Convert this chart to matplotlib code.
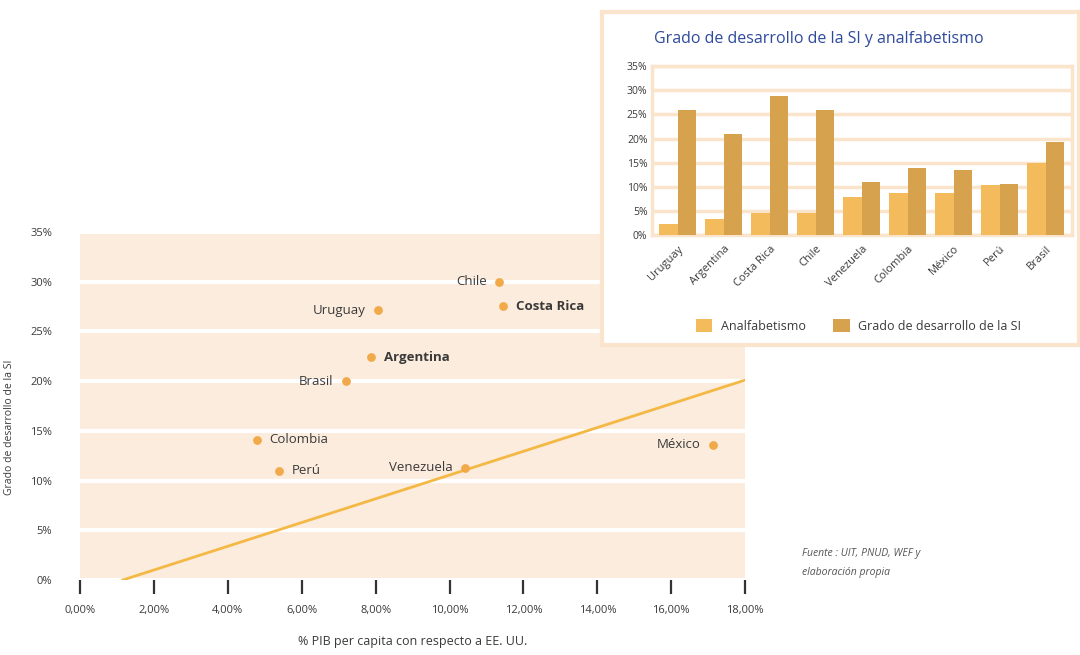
import numpy as np
import matplotlib
matplotlib.use("Agg")
import matplotlib.pyplot as plt
from matplotlib.patches import Rectangle
from matplotlib.ticker import FuncFormatter

plt.rcParams['font.family'] = ['Open Sans', 'DejaVu Sans']

# dispersión: % PIB per cápita vs grado de desarrollo de la SI
paises = ['Chile', 'Costa Rica', 'Uruguay', 'Argentina', 'Brasil',
          'Colombia', 'Perú', 'Venezuela', 'México']
pib_pc = [11.34, 11.45, 8.07, 7.88, 7.20, 4.79, 5.39, 10.42, 17.14]
grado_si = [30.0, 27.5, 27.1, 22.4, 20.0, 14.1, 11.0, 11.3, 13.6]
lado = ['izq', 'der', 'izq', 'der', 'izq', 'der', 'der', 'izq', 'izq']
negrita = ['Costa Rica', 'Argentina']

tendencia_x = [1.16, 18.0]
tendencia_y = [0.0, 20.1]

# barras: analfabetismo y grado de desarrollo
cat_barras = ['Uruguay', 'Argentina', 'Costa Rica', 'Chile', 'Venezuela',
              'Colombia', 'México', 'Perú', 'Brasil']
analfabetismo = [2.3, 3.3, 4.5, 4.5, 7.9, 8.7, 8.7, 10.4, 14.9]
grado_barras = [25.9, 20.9, 28.8, 25.9, 11.0, 13.9, 13.5, 10.6, 19.3]

fondo = '#fcecdd'
naranja = '#f2a94a'
linea = '#f4b845'
claro = '#f3bb5c'
oscuro = '#d6a24e'
borde = '#fbe4cc'
texto = '#3a3a3a'

fig = plt.figure(figsize=(10.8, 6.55), dpi=100)

ax = fig.add_axes([0.074, 0.1145, 0.616, 0.5315])
ax.set_facecolor(fondo)
ax.set_xlim(0, 18)
ax.set_ylim(0, 35)
for s in ax.spines.values():
    s.set_visible(False)
ax.set_yticks(np.arange(0, 36, 5))
ax.set_xticks(np.arange(0, 19, 2))
ax.yaxis.set_major_formatter(FuncFormatter(lambda v, p: f'{v:.0f}%'))
ax.xaxis.set_major_formatter(FuncFormatter(lambda v, p: f'{v:.2f}%'.replace('.', ',')))
ax.grid(axis='y', color='white', linewidth=3)
ax.set_axisbelow(True)
ax.tick_params(axis='y', length=0, pad=20, labelsize=8, labelcolor=texto)
ax.tick_params(axis='x', direction='out', length=10, width=1.6, color='#333333',
               pad=8, labelsize=8, labelcolor=texto)

ax.plot(tendencia_x, tendencia_y, color=linea, linewidth=2)
ax.scatter(pib_pc, grado_si, s=28, color=naranja, zorder=3)
for nombre, x, y, l in zip(paises, pib_pc, grado_si, lado):
    peso = 'bold' if nombre in negrita else 'normal'
    if l == 'izq':
        ax.annotate(nombre, (x, y), xytext=(-9, 0), textcoords='offset points',
                    ha='right', va='center', fontsize=9.5, color=texto, fontweight=peso)
    else:
        ax.annotate(nombre, (x, y), xytext=(9, 0), textcoords='offset points',
                    ha='left', va='center', fontsize=9.5, color=texto, fontweight=peso)

ax.set_ylabel('Grado de desarrollo de la SI', fontsize=7.5, color=texto)
ax.yaxis.set_label_coords(-0.097, 0.44)
ax.set_xlabel('% PIB per capita con respecto a EE. UU.', fontsize=9, color=texto,
              labelpad=14)

fig.text(0.743, 0.163, 'Fuente : UIT, PNUD, WEF y\nelaboración propia', fontsize=7.5,
         style='italic', color='#555555', linespacing=2.0, va='top')

# recuadro del gráfico de barras
fig.patches.append(Rectangle((0.557, 0.474), 0.442, 0.507, transform=fig.transFigure,
                             facecolor='white', edgecolor=borde, linewidth=3, zorder=1))

bx = fig.add_axes([0.604, 0.641, 0.389, 0.258], zorder=2)
bx.set_facecolor('white')
pos = np.arange(len(cat_barras))
ancho = 0.4
bx.bar(pos - ancho / 2, analfabetismo, ancho, color=claro, label='Analfabetismo', zorder=3)
bx.bar(pos + ancho / 2, grado_barras, ancho, color=oscuro,
       label='Grado de desarrollo de la SI', zorder=3)
bx.set_xlim(-0.55, 8.58)
bx.set_ylim(0, 35)
bx.set_yticks(np.arange(0, 36, 5))
bx.yaxis.set_major_formatter(FuncFormatter(lambda v, p: f'{v:.0f}%'))
bx.grid(axis='y', color=borde, linewidth=2.5)
bx.set_axisbelow(True)
for s in bx.spines.values():
    s.set_color(borde)
    s.set_linewidth(2.5)
bx.set_xticks(pos)
bx.set_xticklabels(cat_barras, rotation=45, ha='right', rotation_mode='anchor')
bx.tick_params(axis='y', length=0, labelsize=7.5, labelcolor=texto)
bx.tick_params(axis='x', length=0, labelsize=8, labelcolor=texto, pad=6)
bx.set_title('Grado de desarrollo de la SI y analfabetismo', fontsize=11.5,
             color='#2f4a9c', loc='left', x=0.005, pad=17)

fig.legend(*bx.get_legend_handles_labels(), loc='center', ncol=2,
           bbox_to_anchor=(0.795, 0.503), frameon=False, fontsize=9,
           handlelength=1.3, handleheight=1.3, columnspacing=2.2, handletextpad=0.7,
           labelcolor=texto)

fig.savefig('out.png', dpi=100)
